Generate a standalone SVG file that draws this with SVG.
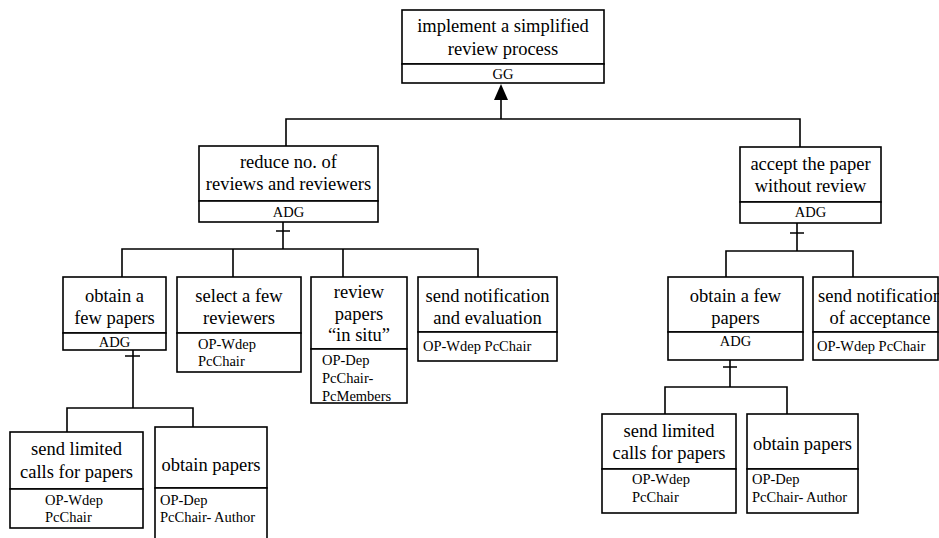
<svg xmlns="http://www.w3.org/2000/svg" width="939" height="538" viewBox="0 0 939 538" font-family="'Liberation Serif', 'Times New Roman', 'DejaVu Serif', serif">
  <style>
    .box { fill: #fff; stroke: #000; stroke-width: 1.6; }
    .ln { fill: none; stroke: #000; stroke-width: 1.6; }
    .t { font-size: 18.5px; text-anchor: middle; fill: #000; }
    .s { font-size: 14.5px; fill: #000; }
    .sc { text-anchor: middle; }
  </style>
  <rect width="939" height="538" fill="#fff"/>

  <!-- connectors -->
  <g id="connectors">
    <!-- root goal to its two sub-goals -->
    <path class="ln" d="M501,100 V119 M286,146 V119 H800 V147"/>
    <polygon points="501,84 494,100 508,100" fill="#000"/>
    <!-- reduce no. of reviews: AND decomposition -->
    <path class="ln" d="M283,222 V249 M276,231 H290 M122,277 V249 H478 V277 M233,249 V277 M343,249 V277"/>
    <!-- accept without review: AND decomposition -->
    <path class="ln" d="M797,223 V251 M790,233 H804 M726,277 V251 H853 V277"/>
    <!-- obtain a few papers (left) -->
    <path class="ln" d="M133,350 V408 M125,356 H140 M67,432 V408 H193 V427"/>
    <!-- obtain a few papers (right) -->
    <path class="ln" d="M730,360 V387 M723,367 H737 M665,414 V387 H787 V414"/>
  </g>

  <!-- root goal -->
  <g id="n-root">
    <rect class="box" x="402" y="10" width="202" height="54"/>
    <rect class="box" x="402" y="64" width="202" height="19"/>
    <text class="t" x="503" y="32">implement a simplified</text>
    <text class="t" x="503" y="55">review process</text>
    <text class="s sc" x="503" y="79">GG</text>
  </g>

  <g id="n-reduce">
    <rect class="box" x="199" y="146" width="179" height="55"/>
    <rect class="box" x="199" y="201" width="179" height="21"/>
    <text class="t" x="288.5" y="168">reduce no. of</text>
    <text class="t" x="288.5" y="190">reviews and reviewers</text>
    <text class="s sc" x="288.5" y="217">ADG</text>
  </g>

  <g id="n-accept">
    <rect class="box" x="740" y="147" width="141" height="55"/>
    <rect class="box" x="740" y="202" width="141" height="21"/>
    <text class="t" x="810.5" y="170">accept the paper</text>
    <text class="t" x="810.5" y="192">without review</text>
    <text class="s sc" x="810.5" y="217">ADG</text>
  </g>

  <g id="n-obtain-few-l">
    <rect class="box" x="63" y="277" width="103" height="56"/>
    <rect class="box" x="63" y="333" width="103" height="17"/>
    <text class="t" x="114.5" y="302">obtain a</text>
    <text class="t" x="114.5" y="324">few papers</text>
    <text class="s sc" x="114.5" y="347">ADG</text>
  </g>

  <g id="n-select">
    <rect class="box" x="177" y="277" width="124" height="56"/>
    <rect class="box" x="177" y="333" width="124" height="39"/>
    <text class="t" x="239" y="302">select a few</text>
    <text class="t" x="239" y="324">reviewers</text>
    <text class="s" x="198" y="349">OP-Wdep</text>
    <text class="s" x="198" y="366">PcChair</text>
  </g>

  <g id="n-review">
    <rect class="box" x="311" y="277" width="96" height="72"/>
    <rect class="box" x="311" y="349" width="96" height="54"/>
    <text class="t" x="359" y="298">review</text>
    <text class="t" x="359" y="320">papers</text>
    <text class="t" x="359" y="341">“in situ”</text>
    <text class="s" x="322" y="365">OP-Dep</text>
    <text class="s" x="322" y="383">PcChair-</text>
    <text class="s" x="322" y="401">PcMembers</text>
  </g>

  <g id="n-notify-eval">
    <rect class="box" x="418" y="277" width="139" height="55"/>
    <rect class="box" x="418" y="332" width="139" height="29"/>
    <text class="t" x="487.5" y="302">send notification</text>
    <text class="t" x="487.5" y="324">and evaluation</text>
    <text class="s" x="423" y="351">OP-Wdep PcChair</text>
  </g>

  <g id="n-obtain-few-r">
    <rect class="box" x="668" y="277" width="135" height="55"/>
    <rect class="box" x="668" y="332" width="135" height="28"/>
    <text class="t" x="735.5" y="302">obtain a few</text>
    <text class="t" x="735.5" y="324">papers</text>
    <text class="s sc" x="735.5" y="346">ADG</text>
  </g>

  <g id="n-notify-accept">
    <rect class="box" x="813" y="277" width="125" height="55"/>
    <rect class="box" x="813" y="332" width="125" height="28"/>
    <text class="t" x="880" y="302">send notification</text>
    <text class="t" x="880" y="324">of acceptance</text>
    <text class="s" x="817" y="351">OP-Wdep PcChair</text>
  </g>

  <g id="n-calls-l">
    <rect class="box" x="10" y="432" width="133" height="57"/>
    <rect class="box" x="10" y="489" width="133" height="39"/>
    <text class="t" x="76.5" y="455">send limited</text>
    <text class="t" x="76.5" y="478">calls for papers</text>
    <text class="s" x="45" y="505">OP-Wdep</text>
    <text class="s" x="45" y="522">PcChair</text>
  </g>

  <g id="n-obtain-l">
    <rect class="box" x="155" y="427" width="112" height="61"/>
    <rect class="box" x="155" y="488" width="112" height="60"/>
    <text class="t" x="211" y="471">obtain papers</text>
    <text class="s" x="160" y="505">OP-Dep</text>
    <text class="s" x="160" y="522">PcChair- Author</text>
  </g>

  <g id="n-calls-r">
    <rect class="box" x="602" y="414" width="134" height="55"/>
    <rect class="box" x="602" y="469" width="134" height="44"/>
    <text class="t" x="669" y="437">send limited</text>
    <text class="t" x="669" y="459">calls for papers</text>
    <text class="s" x="632" y="484">OP-Wdep</text>
    <text class="s" x="632" y="502">PcChair</text>
  </g>

  <g id="n-obtain-r">
    <rect class="box" x="747" y="414" width="111" height="55"/>
    <rect class="box" x="747" y="469" width="111" height="44"/>
    <text class="t" x="802.5" y="450">obtain papers</text>
    <text class="s" x="752" y="484">OP-Dep</text>
    <text class="s" x="752" y="502">PcChair- Author</text>
  </g>
</svg>
